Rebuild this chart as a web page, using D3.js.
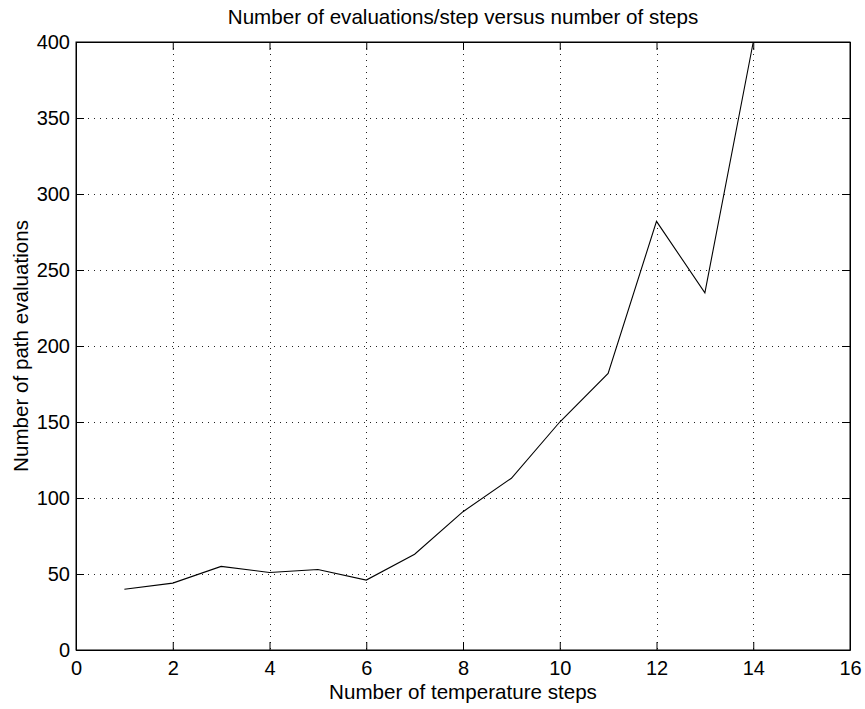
<!DOCTYPE html>
<html>
<head>
<meta charset="utf-8">
<title>Evaluations per step</title>
<script src="https://d3js.org/d3.v7.min.js"></script>
<style>
body { margin: 0; background: #fff; }
text { font-family: "Liberation Sans", Arial, Helvetica, sans-serif; fill: #000; }
.grid line { stroke: #222; stroke-width: 1; stroke-dasharray: 1,5; shape-rendering: crispEdges; }
</style>
</head>
<body>
<div id="chart"></div>
<script>

// data
var steps = [1, 2, 3, 4, 5, 6, 7, 8, 9, 10, 11, 12, 13, 14];
var evals = [40, 44, 55, 51, 53, 46, 63, 91, 113, 150, 182, 282, 235, 400];
var xTicks = [0, 2, 4, 6, 8, 10, 12, 14, 16];
var yTicks = [0, 50, 100, 150, 200, 250, 300, 350, 400];

var W = 865, H = 709;
var margin = {top: 42, right: 15, bottom: 59, left: 76},
    width = W - margin.left - margin.right,
    height = H - margin.top - margin.bottom;

var x = d3.scaleLinear().domain([0, 16]).range([0, width]);
var y = d3.scaleLinear().domain([0, 400]).range([height, 0]);

var svg = d3.select("#chart").append("svg")
    .attr("width", W)
    .attr("height", H)
  .append("g")
    .attr("transform", "translate(" + margin.left + "," + margin.top + ")");

// dotted grid
svg.append("g").attr("class", "grid")
  .selectAll("line").data(xTicks.slice(1, -1)).enter().append("line")
    .attr("x1", function(d) { return Math.round(x(d)) + 0.5; })
    .attr("x2", function(d) { return Math.round(x(d)) + 0.5; })
    .attr("y1", 0).attr("y2", height);
svg.append("g").attr("class", "grid")
  .selectAll("line").data(yTicks.slice(1, -1)).enter().append("line")
    .attr("y1", function(d) { return Math.round(y(d)) + 0.5; })
    .attr("y2", function(d) { return Math.round(y(d)) + 0.5; })
    .attr("x1", 0).attr("x2", width);

// axes, ticks pointing inward like matlab
var fs = "20px";
var xAxis = svg.append("g")
    .attr("transform", "translate(0," + height + ")")
    .call(d3.axisBottom(x).tickValues(xTicks).tickSizeInner(-8).tickSizeOuter(0).tickPadding(11));
var yAxis = svg.append("g")
    .call(d3.axisLeft(y).tickValues(yTicks).tickSizeInner(-8).tickSizeOuter(0).tickPadding(6));
svg.append("g")
    .call(d3.axisTop(x).tickValues(xTicks).tickSizeInner(-8).tickSizeOuter(0).tickFormat(""));
svg.append("g")
    .attr("transform", "translate(" + width + ",0)")
    .call(d3.axisRight(y).tickValues(yTicks).tickSizeInner(-8).tickSizeOuter(0).tickFormat(""));

svg.selectAll(".tick text").style("font-size", fs).attr("fill", "#000");
svg.selectAll(".domain, .tick line").attr("stroke", "#000");

// box
svg.append("rect")
    .attr("x", 0).attr("y", 0)
    .attr("width", width).attr("height", height)
    .attr("fill", "none").attr("stroke", "#000").attr("stroke-width", 1);

// the line
var line = d3.line()
    .x(function(d, i) { return x(steps[i]); })
    .y(function(d) { return y(d); });
svg.append("path")
    .datum(evals)
    .attr("fill", "none")
    .attr("stroke", "#000")
    .attr("stroke-width", 1.1)
    .attr("d", line);

// titles
svg.append("text")
    .attr("x", width / 2).attr("y", -18)
    .attr("text-anchor", "middle").style("font-size", "20.6px")
    .text("Number of evaluations/step versus number of steps");
svg.append("text")
    .attr("x", width / 2).attr("y", height + 49)
    .attr("text-anchor", "middle").style("font-size", "20.6px")
    .text("Number of temperature steps");
svg.append("text")
    .attr("transform", "translate(" + (-48) + "," + (height / 2) + ") rotate(-90)")
    .attr("text-anchor", "middle").style("font-size", "20.6px")
    .text("Number of path evaluations");

</script>
</body>
</html>
